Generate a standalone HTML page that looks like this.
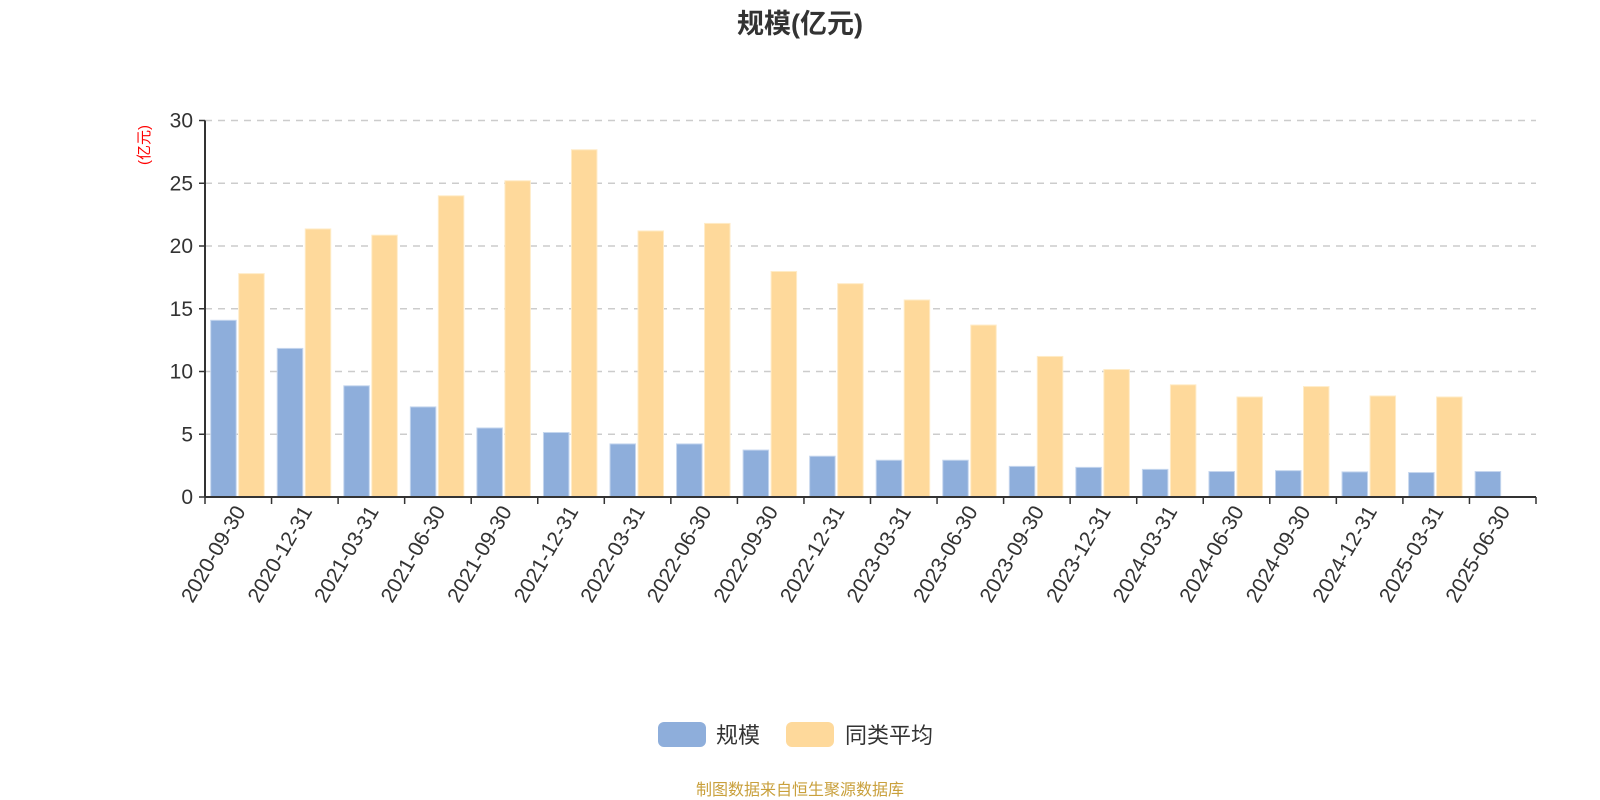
<!DOCTYPE html>
<html><head><meta charset="utf-8"><style>
body{margin:0;background:#fff;}
svg{display:block;font-family:"Liberation Sans","Noto Sans CJK SC",sans-serif;}
</style></head><body>
<svg id="chart" width="1600" height="800" viewBox="0 0 1600 800" xmlns="http://www.w3.org/2000/svg">
<text x="800" y="33" text-anchor="middle" font-size="27" font-weight="bold" fill="#333">规模(亿元)</text>
<text transform="translate(149,145) rotate(-90)" text-anchor="middle" font-size="15" fill="#ff0000">(亿元)</text>
<g id="grid"></g><g id="bars"></g><g id="axes"></g>
<g>
<rect x="658" y="722" width="48" height="25" rx="6" fill="#8eaedb"/>
<text x="716" y="743" font-size="22" fill="#333">规模</text>
<rect x="786" y="722" width="48" height="25" rx="6" fill="#fed99b"/>
<text x="845" y="743" font-size="22" fill="#333">同类平均</text>
</g>
<text x="800" y="795" text-anchor="middle" font-size="16" fill="#c9a03c">制图数据来自恒生聚源数据库</text>
</svg>
<script>
const categories=["2020-09-30","2020-12-31","2021-03-31","2021-06-30","2021-09-30","2021-12-31","2022-03-31","2022-06-30","2022-09-30","2022-12-31","2023-03-31","2023-06-30","2023-09-30","2023-12-31","2024-03-31","2024-06-30","2024-09-30","2024-12-31","2025-03-31","2025-06-30"];
const scaleValues=[14.08,11.84,8.86,7.18,5.5,5.14,4.23,4.23,3.74,3.25,2.93,2.93,2.44,2.36,2.2,2.03,2.1,2.0,1.95,2.03];
const averageValues=[17.8,21.36,20.86,24.0,25.2,27.67,21.2,21.8,17.97,17.0,15.7,13.7,11.2,10.16,8.94,7.97,8.8,8.05,7.97,null];
const yTicks=[0,5,10,15,20,25,30];
const NS="http://www.w3.org/2000/svg";
const X0=205,X1=1536,Y0=497,Y1=120.5,YMAX=30;
const bw=(X1-X0)/categories.length;
function y(v){return Y0-(v/YMAX)*(Y0-Y1);}
function x(i){return X0+i*bw;}
function mk(tag,attrs,parent){const e=document.createElementNS(NS,tag);for(const k in attrs)e.setAttribute(k,attrs[k]);parent.appendChild(e);return e;}
const grid=document.getElementById('grid'),bars=document.getElementById('bars'),axes=document.getElementById('axes');
yTicks.forEach(t=>{
  if(t>0){const l=mk('line',{x1:X0,x2:X1,y1:y(t),y2:y(t),stroke:'#ccc','stroke-width':1.5,'stroke-dasharray':'7,6'},grid);
  
  }
  const tk=mk('line',{x1:X0-6,x2:X0,y1:y(t),y2:y(t),stroke:'#333','stroke-width':1.5},axes);
  
  
  const tx=mk('text',{x:X0-12,y:y(t)+7,'text-anchor':'end','font-size':21,fill:'#333'},axes);
  tx.textContent=t;
  
  
});
categories.forEach((c,i)=>{
  const w=25.5;
  const b=mk('rect',{x:x(i)+5.7,y:y(scaleValues[i]),width:w,height:Y0-y(scaleValues[i]),fill:'#8eaedb',stroke:'#c5d6ee','stroke-width':1},bars);
  
  
  if(averageValues[i]!=null){
    const o=mk('rect',{x:x(i)+33.7,y:y(averageValues[i]),width:w,height:Y0-y(averageValues[i]),fill:'#fed99b',stroke:'#ffecc8','stroke-width':1},bars);
    
    
  }
  const cx=x(i)+bw/2;
  const lb=mk('text',{transform:'translate('+(cx+8)+','+(Y0+14)+') rotate(-60)','text-anchor':'end','font-size':21,fill:'#333'},axes);
  lb.textContent=c;
  
  
});
for(let i=0;i<=categories.length;i++){
  const t=mk('line',{x1:x(i),x2:x(i),y1:Y0,y2:Y0+7,stroke:'#333','stroke-width':1.5},axes);
  
  
}
const xa=mk('line',{x1:X0,x2:X1,y1:Y0,y2:Y0,stroke:'#333','stroke-width':2},axes);


const ya=mk('line',{x1:X0,x2:X0,y1:Y1,y2:Y0,stroke:'#333','stroke-width':2},axes);


</script>
</body></html>
